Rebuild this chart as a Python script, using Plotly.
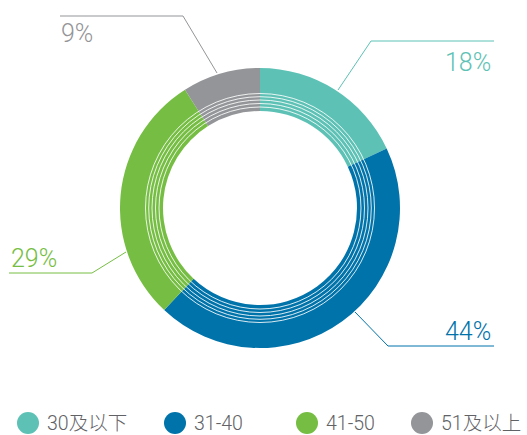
import plotly.graph_objects as go

W, H = 527, 435

categories = ["30及以下", "31-40", "41-50", "51及以上"]
values = [18, 44, 29, 9]
pct_labels = ["18%", "44%", "29%", "9%"]
colors = ["#5DC2B5", "#0073AA", "#76BE43", "#939598"]

# donut geometry (pixels)
CX, CY, R_OUT, R_IN = 260, 208, 140, 97
stripe_radii = [101, 104.5, 108, 111.3, 114.5]

def px(x):
    return x / W

def py(y):
    return 1 - y / H

fig = go.Figure()
fig.add_trace(go.Pie(
    labels=categories, values=values, sort=False, direction="clockwise",
    rotation=0, hole=R_IN / R_OUT,
    marker=dict(colors=colors, line=dict(width=0)),
    textinfo="none", showlegend=False,
    domain=dict(x=[px(CX - R_OUT), px(CX + R_OUT)], y=[py(CY + R_OUT), py(CY - R_OUT)]),
))

shapes = []
for r in stripe_radii:
    shapes.append(dict(
        type="circle", xref="paper", yref="paper", xsizemode="pixel", ysizemode="pixel",
        xanchor=px(CX), yanchor=py(CY), x0=-r, x1=r, y0=-r, y1=r,
        line=dict(color="rgba(255,255,255,0.85)", width=1), fillcolor="rgba(0,0,0,0)",
    ))

# leader lines: (start on ring, elbow, end), label anchor
leaders = [
    [(338, 90), (371, 41), (494, 41)],
    [(355, 312), (388, 346), (494, 346)],
    [(126, 252), (92, 273), (9, 273)],
    [(217, 73), (183, 16), (60, 16)],
]
label_pos = [(493, 62, "right"), (493, 331, "right"), (9, 258, "left"), (59, 34, "left")]

annotations = []
for i, pts in enumerate(leaders):
    path = "M " + " L ".join(f"{px(x)},{py(y)}" for x, y in pts)
    shapes.append(dict(type="path", xref="paper", yref="paper", path=path,
                       line=dict(color=colors[i], width=1)))
    x, y, anc = label_pos[i]
    annotations.append(dict(
        x=px(x), y=py(y), xref="paper", yref="paper", text=pct_labels[i],
        showarrow=False, xanchor=anc, yanchor="middle",
        font=dict(family="Roboto", size=25, color=colors[i], weight=300),
    ))

# custom legend
legend_x = [28, 175, 307, 422]
LEG_Y = 423
for i, cat in enumerate(categories):
    shapes.append(dict(
        type="circle", xref="paper", yref="paper", xsizemode="pixel", ysizemode="pixel",
        xanchor=px(legend_x[i]), yanchor=py(LEG_Y), x0=-11, x1=11, y0=-11, y1=11,
        line=dict(width=0), fillcolor=colors[i],
    ))
    annotations.append(dict(
        x=px(legend_x[i] + 17), y=py(LEG_Y), xref="paper", yref="paper", text=cat,
        showarrow=False, xanchor="left", yanchor="middle",
        font=dict(family="Roboto, Noto Sans CJK SC", size=19.5, color="#616265", weight=300),
    ))

fig.update_layout(
    width=W, height=H, margin=dict(l=0, r=0, t=0, b=0),
    paper_bgcolor="white", plot_bgcolor="white",
    shapes=shapes, annotations=annotations, showlegend=False,
)
fig.write_html("out.html", config={"displayModeBar": False},
               post_script="document.body.style.margin='0px';document.body.style.overflow='hidden';")
